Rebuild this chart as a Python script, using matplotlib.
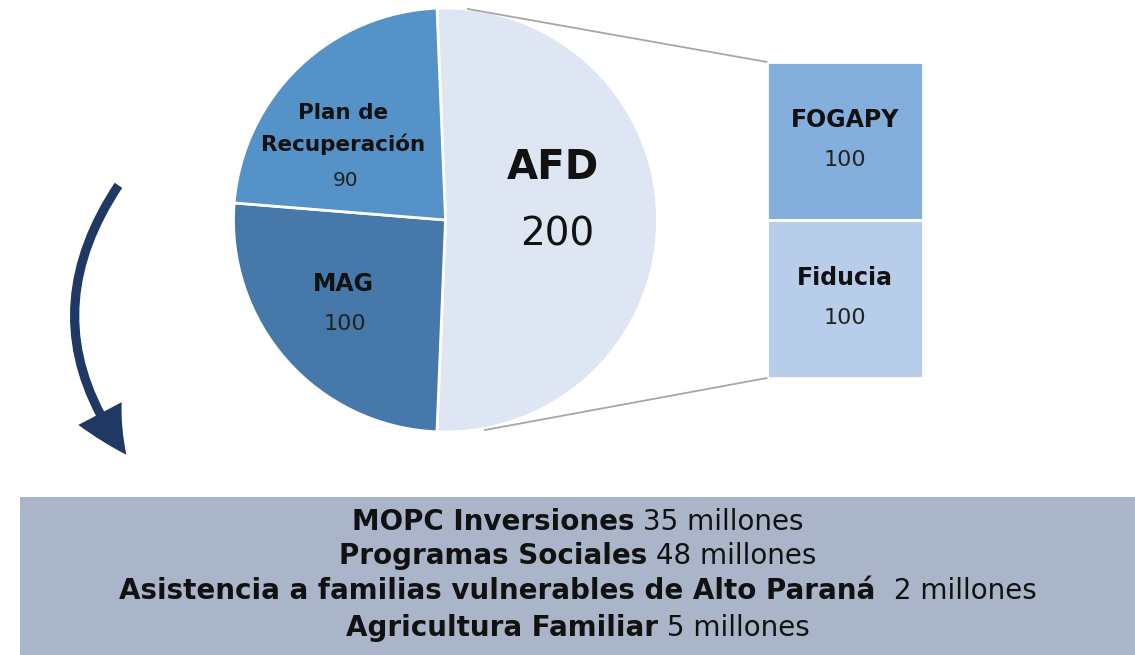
import matplotlib
matplotlib.use("Agg")
import matplotlib.pyplot as plt
from matplotlib.patches import Rectangle, FancyArrowPatch
import numpy as np

plt.rcParams['font.family'] = ['DejaVu Sans']

# ---- data ----
pie_labels = ["AFD", "MAG", "Plan de\nRecuperación"]
pie_values = [200, 100, 90]
pie_colors = ["#dee6f3", "#4679a9", "#5592c8"]

bar_labels = ["FOGAPY", "Fiducia"]
bar_values = [100, 100]
bar_colors = ["#84aedc", "#b7cde9"]

item_names = ["MOPC Inversiones", "Programas Sociales",
              "Asistencia a familias vulnerables de Alto Paraná ", "Agricultura Familiar"]
item_amounts = ["35 millones", "48 millones", "2 millones", "5 millones"]

W, H = 1135, 655
fig = plt.figure(figsize=(W / 100, H / 100), dpi=100)
ax = fig.add_axes([0, 0, 1, 1])

def Y(y):
    return H - y

# ---- pie ----
cx, cy, R = 445.5, Y(220), 212
total = sum(pie_values)
start = 90 + (pie_values[0] / total * 360 - 180) / 2
wedges, _ = ax.pie(pie_values, colors=pie_colors, startangle=start, counterclock=False,
                   center=(cx, cy), radius=R, frame=True,
                   wedgeprops=dict(edgecolor="white", linewidth=2))

ax.set_xlim(0, W)
ax.set_ylim(0, H)
ax.set_aspect("equal")
ax.axis("off")

# pie labels
ax.text(553, Y(168), pie_labels[0], ha="center", va="center", fontsize=29, fontweight="bold", color="#111111")
ax.text(557, Y(235), str(pie_values[0]), ha="center", va="center", fontsize=28, color="#111111")
ax.text(343, Y(129), pie_labels[2], ha="center", va="center", fontsize=15.5, fontweight="bold",
        color="#111111", linespacing=1.55)
ax.text(346, Y(180), str(pie_values[2]), ha="center", va="center", fontsize=14.5, color="#222222")
ax.text(343, Y(284), pie_labels[1], ha="center", va="center", fontsize=17, fontweight="bold", color="#111111")
ax.text(345, Y(324), str(pie_values[1]), ha="center", va="center", fontsize=16, color="#222222")

# ---- bar of pie ----
bx0, by0, bw, bh = 767, 62, 156, 316
bax = fig.add_axes([bx0 / W, (H - by0 - bh) / H, bw / W, bh / H])
bottom = 0
for lab, v, c in zip(bar_labels, bar_values, bar_colors):
    bax.bar(0, v, bottom=sum(bar_values) - bottom - v, width=1, color=c, edgecolor="white", linewidth=2)
    mid = sum(bar_values) - bottom - v / 2
    bax.text(0, mid + v * 0.13, lab, ha="center", va="center", fontsize=17, fontweight="bold", color="#111111")
    bax.text(0, mid - v * 0.12, str(v), ha="center", va="center", fontsize=16, color="#222222")
    bottom += v
bax.set_xlim(-0.5, 0.5)
bax.set_ylim(0, sum(bar_values))
bax.axis("off")

# connector lines
ax.plot([468, bx0], [Y(9), Y(by0)], color="#a6a6a6", lw=1.3)
ax.plot([485, bx0], [Y(430), Y(by0 + bh)], color="#a6a6a6", lw=1.3)

# ---- curved arrow ----
arr = FancyArrowPatch((120, Y(183)), (128, Y(457)), connectionstyle="arc3,rad=0.36",
                      arrowstyle="simple,head_length=1.6,head_width=1.6,tail_width=0.3",
                      mutation_scale=22, color="#1f3864", lw=0)
ax.add_patch(arr)

# ---- bottom box ----
ax.add_patch(Rectangle((20, 0), W - 20, Y(497), facecolor="#aab5c9", edgecolor="none"))

fig.canvas.draw()
r = fig.canvas.get_renderer()
ys = [522, 556, 591, 628]
for name, amt, yy in zip(item_names, item_amounts, ys):
    t1 = ax.text(0, Y(yy), name, ha="left", va="center", fontsize=20, fontweight="bold", color="#111111")
    t2 = ax.text(0, Y(yy), " " + amt, ha="left", va="center", fontsize=20, color="#111111")
    w1 = t1.get_window_extent(r).width
    w2 = t2.get_window_extent(r).width
    x0 = 578 - (w1 + w2) / 2
    t1.set_x(x0)
    t2.set_x(x0 + w1)

fig.savefig("out.png", dpi=100)
